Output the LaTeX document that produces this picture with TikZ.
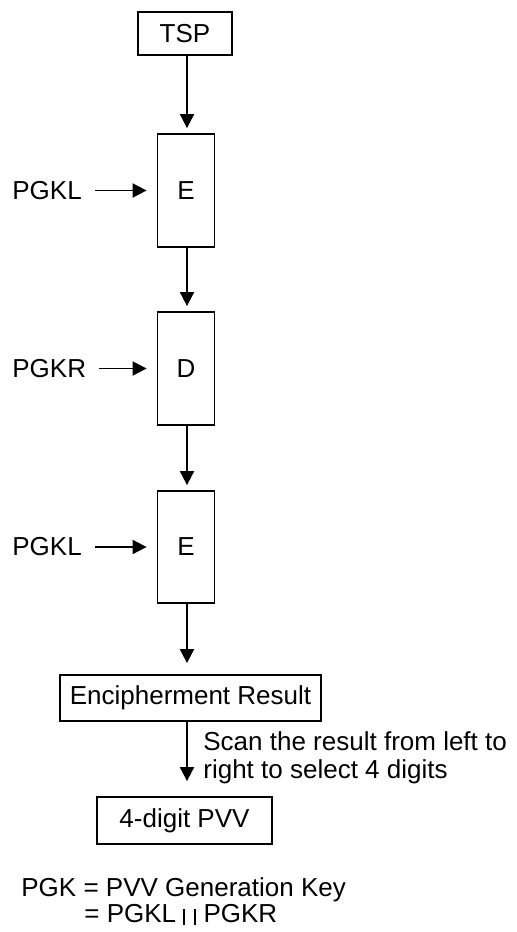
\documentclass[tikz,border=0pt]{standalone}
\usepackage{fontspec}
\setmainfont{Liberation Sans}
\usetikzlibrary{arrows.meta}
\begin{document}
\begin{tikzpicture}[x=0.5pt,y=-0.5pt,
  font=\fontsize{13}{14}\selectfont,
  box/.style={draw, line width=0.9pt, inner sep=0pt, minimum width=#1},
  lbl/.style={inner sep=0pt},
  arr/.style={line width=0.95pt, -{Triangle[length=7pt,width=7pt]}}]
\useasboundingbox (0,0) rectangle (517,932);
\node[box=47pt, minimum height=21.5pt] (tsp) at (185,33.5) {TSP};
\node[box=28.5pt, minimum height=56.5pt] (e1) at (186,190.5) {E};
\node[box=28.5pt, minimum height=56.5pt] (d) at (186,368.5) {D};
\node[box=28.5pt, minimum height=56pt] (e2) at (186,547) {E};
\node[box=130.5pt, minimum height=23pt] (enc) at (190.5,698) {Encipherment Result};
\node[box=87.5pt, minimum height=23.5pt] (pvv) at (184.5,820.5) {4-digit PVV};
\coordinate (ax) at (187,0);
\node[lbl, anchor=west] (k1) at (12,190.5) {PGKL};
\node[lbl, anchor=west] (k2) at (12,368.5) {PGKR};
\node[lbl, anchor=west] (k3) at (12,547) {PGKL};
\draw[arr, shorten <=6.5pt, shorten >=5pt] (k1.east) -- (k1.east -| e1.west);
\draw[arr, shorten <=6.5pt, shorten >=5pt] (k2.east) -- (k2.east -| d.west);
\draw[arr, shorten <=6.5pt, shorten >=5pt] (k3.east) -- (k3.east -| e2.west);
\draw[arr, shorten >=2.5pt] (tsp.south -| ax) -- (e1.north -| ax);
\draw[arr, shorten >=2.5pt] (e1.south -| ax) -- (d.north -| ax);
\draw[arr, shorten >=2.5pt] (d.south -| ax) -- (e2.north -| ax);
\draw[arr, shorten >=5.5pt] (e2.south -| ax) -- (enc.north -| ax);
\draw[arr, shorten >=7.5pt] (enc.south -| ax) -- (pvv.north -| ax);
\node[lbl, anchor=north west, align=left] (scan) at (203,731)
  {Scan the result from left to\\right to select 4 digits};
\node[lbl, anchor=base west] (g1) at (21,896) {PGK = PVV Generation Key};
\node[lbl, anchor=base west] (g2) at (84,922)
  {= PGKL\hspace{3.5pt}\rule[-1.5pt]{0.75pt}{8pt}\hspace{4.7pt}\rule[-1.5pt]{0.75pt}{8pt}\hspace{4pt}PGKR};
\end{tikzpicture}
\end{document}
